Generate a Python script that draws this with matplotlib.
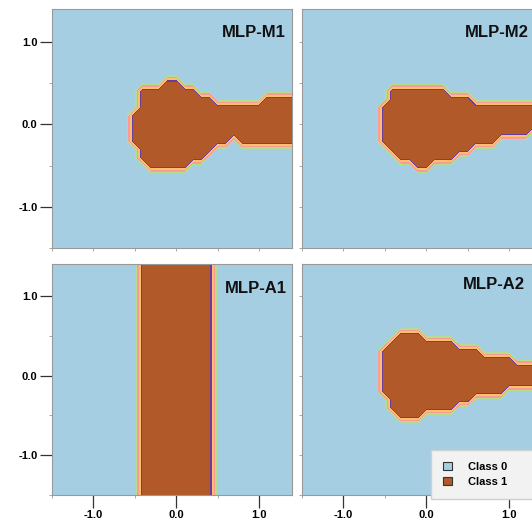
import numpy as np
import matplotlib.pyplot as plt
from matplotlib.ticker import FixedLocator, MultipleLocator
from matplotlib.patches import Patch

plt.rcParams['font.family'] = ['Liberation Sans', 'DejaVu Sans']
plt.rcParams['font.weight'] = 'bold'

# prediction grid (step 0.1 in both directions)
grid_x = np.round(np.arange(-1.5, 1.45, 0.1), 1)
grid_y = np.round(np.arange(-1.5, 1.45, 0.1), 1)

# class-1 runs per grid row, y: [(x_from, x_to), ...]
mlp_m1 = {
    0.5: [(-0.1, 0.0)],
    0.4: [(-0.4, 0.2)],
    0.3: [(-0.4, 0.4), (1.1, 1.4)],
    0.2: [(-0.4, 1.4)],
    0.1: [(-0.5, 1.4)],
    0.0: [(-0.5, 1.4)],
    -0.1: [(-0.5, 1.4)],
    -0.2: [(-0.5, 0.6), (0.8, 1.4)],
    -0.3: [(-0.4, 0.4)],
    -0.4: [(-0.4, 0.3)],
    -0.5: [(-0.3, 0.1)],
}

mlp_m2 = {
    0.4: [(-0.4, 0.2)],
    0.3: [(-0.4, 0.5)],
    0.2: [(-0.5, 1.4)],
    0.1: [(-0.5, 1.4)],
    0.0: [(-0.5, 1.4)],
    -0.1: [(-0.5, 1.2)],
    -0.2: [(-0.5, 0.8)],
    -0.3: [(-0.4, 0.5)],
    -0.4: [(-0.3, 0.3)],
    -0.5: [(-0.1, 0.0)],
}

# MLP-A1 is a vertical band over every row
mlp_a1_band = (-0.4, 0.4)

mlp_a2 = {
    0.5: [(-0.3, -0.1)],
    0.4: [(-0.4, 0.3)],
    0.3: [(-0.5, 0.6)],
    0.2: [(-0.5, 1.0)],
    0.1: [(-0.5, 1.4)],
    0.0: [(-0.5, 1.4)],
    -0.1: [(-0.5, 1.4)],
    -0.2: [(-0.5, 0.9)],
    -0.3: [(-0.4, 0.5)],
    -0.4: [(-0.4, 0.3)],
    -0.5: [(-0.3, -0.1)],
}

titles = ["MLP-M1", "MLP-M2", "MLP-A1", "MLP-A2"]
class_names = ["Class 0", "Class 1"]
class_colors = ["#a6cee3", "#b15928"]

# filled-contour bands (Paired palette), from class 0 to class 1
band_levels = [0, 0.12, 0.3, 0.48, 0.72, 0.86, 1.0]
band_colors = ["#a6cee3", "#b2df8a", "#fb9a99", "#fdbf6f", "#6a3d9a", "#b15928"]


def to_mask(runs):
    Z = np.zeros((len(grid_y), len(grid_x)))
    for y, segs in runs.items():
        i = np.argmin(np.abs(grid_y - y))
        for x0, x1 in segs:
            Z[i, (grid_x >= x0 - 1e-6) & (grid_x <= x1 + 1e-6)] = 1
    return Z


a1_runs = {y: [mlp_a1_band] for y in grid_y}
masks = [to_mask(mlp_m1), to_mask(mlp_m2), to_mask(a1_runs), to_mask(mlp_a2)]

W, H = 532, 519
fig = plt.figure(figsize=(W / 100, H / 100), dpi=100)

# axes boxes in pixels: left, top, width, height
boxes = [(52, 9, 240, 239), (302, 9, 240, 239),
         (52, 264, 240, 231), (302, 264, 240, 231)]
title_pos = [(0.975, 0.90), (0.946, 0.90), (0.979, 0.895), (0.930, 0.912)]

for k in range(4):
    l, t, w, h = boxes[k]
    ax = fig.add_axes([l / W, 1 - (t + h) / H, w / W, h / H])
    ax.contourf(grid_x, grid_y, masks[k], levels=band_levels, colors=band_colors)
    ax.set_xlim(-1.5, 1.4)
    ax.set_ylim(-1.5, 1.4)

    for sp in ax.spines.values():
        sp.set_color('#999999')
        sp.set_linewidth(0.8)

    ax.xaxis.set_major_locator(FixedLocator([-1.0, 0.0, 1.0]))
    ax.yaxis.set_major_locator(FixedLocator([-1.0, 0.0, 1.0]))
    ax.xaxis.set_minor_locator(MultipleLocator(0.5))
    ax.yaxis.set_minor_locator(MultipleLocator(0.5))
    ax.tick_params(which='minor', length=2.5, width=0.6, color='#999999')

    left_col = k in (0, 2)
    bottom_row = k in (2, 3)
    if left_col:
        ax.tick_params(axis='y', which='major', length=9, width=0.9,
                       color='#333333', pad=1.5, labelsize=8)
        ax.set_yticklabels(["-1.0", "0.0", "1.0"], fontweight='bold')
    else:
        ax.tick_params(axis='y', which='major', length=2.5, width=0.6,
                       color='#999999', labelleft=False)
    if bottom_row:
        ax.tick_params(axis='x', which='major', length=9, width=0.9,
                       color='#333333', pad=1.5, labelsize=8)
        ax.set_xticklabels(["-1.0", "0.0", "1.0"], fontweight='bold')
    else:
        ax.tick_params(axis='x', which='major', length=2.5, width=0.6,
                       color='#999999', labelbottom=False)

    tx, ty = title_pos[k]
    ax.text(tx, ty, titles[k], transform=ax.transAxes, ha='right',
            va='center', fontsize=12, fontweight='bold', color='#111111')

handles = [Patch(facecolor=c, edgecolor='#333333', linewidth=0.8, label=n)
           for c, n in zip(class_colors, class_names)]
fig.legend(handles=handles, loc='upper left',
           bbox_to_anchor=(431 / W, 1 - 495 / H, 0.25, 45 / H), mode='expand',
           prop={'weight': 'bold', 'size': 8}, handlelength=0.75,
           handleheight=0.75, handletextpad=1.5, borderpad=1.1,
           labelspacing=0.45, borderaxespad=0, fancybox=False,
           facecolor='#f2f2f2', edgecolor='#d0d0d0', framealpha=1)

fig.savefig('out.png', dpi=100)
